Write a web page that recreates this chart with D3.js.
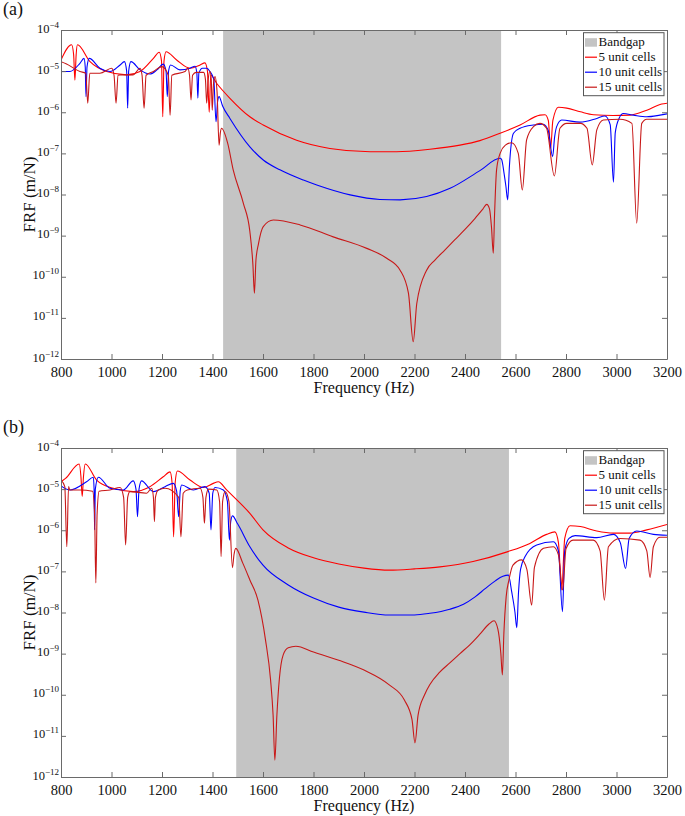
<!DOCTYPE html>
<html>
<head>
<meta charset="utf-8">
<script src="https://cdn.jsdelivr.net/npm/d3@7"></script>
<style>
  html, body { margin: 0; padding: 0; background: #fff; }
  svg { display: block; }
</style>
</head>
<body>
<svg id="chart" width="685" height="816" font-family="Liberation Serif"></svg>
<script>
// ---------------- DATA (frequency in Hz, log10 of FRF in m/N) ----------------
const xTickValues = [800, 1000, 1200, 1400, 1600, 1800, 2000, 2200, 2400, 2600, 2800, 3000, 3200];
const yTickExponents = [-4, -5, -6, -7, -8, -9, -10, -11, -12];
const seriesNames = ["5 unit cells", "10 unit cells", "15 unit cells"];
const panelLabels = ["(a)", "(b)"];
const bandgapA = [1442, 2543];
const bandgapB = [1494, 2574];

// Panel (a)
const a5 = [[800,-4.73],[842,-4.36],[850,-4.6],[855,-5.22],[860,-4.6],[865,-4.36],[915,-4.77],[981,-5.01],[1060,-5.09],[1113,-5.01],[1166,-4.69],[1189,-4.54],[1198,-4.75],[1203,-6.11],[1208,-4.75],[1216,-4.53],[1258,-4.73],[1311,-4.93],[1351,-4.85],[1370,-4.80],[1380,-5.0],[1387,-6.0],[1393,-5.1],[1417,-5.30],[1469,-5.66],[1548,-6.11],[1601,-6.31],[1733,-6.68],[1865,-6.88],[2024,-6.96],[2129,-6.96],[2261,-6.90],[2380,-6.80],[2459,-6.69],[2539,-6.51],[2618,-6.31],[2697,-6.07],[2717,-6.06],[2730,-6.2],[2739,-6.88],[2748,-6.2],[2770,-5.88],[2803,-5.90],[2857,-5.99],[2909,-6.06],[2987,-6.08],[3054,-6.07],[3120,-5.95],[3179,-5.80],[3200,-5.78]];
const a10 = [[800,-5.01],[835,-5.01],[875,-4.81],[891,-4.69],[896,-4.9],[899,-5.62],[903,-4.9],[912,-4.69],[954,-4.93],[994,-5.01],[1034,-4.85],[1051,-4.77],[1060,-5.0],[1064,-5.90],[1068,-5.0],[1077,-4.77],[1113,-4.97],[1152,-5.07],[1180,-4.97],[1205,-4.83],[1216,-5.0],[1221,-5.62],[1226,-5.0],[1234,-4.85],[1271,-4.97],[1311,-4.93],[1331,-4.88],[1338,-5.05],[1342,-5.66],[1346,-5.05],[1360,-4.93],[1377,-4.93],[1390,-5.01],[1405,-5.2],[1414,-6.23],[1420,-5.75],[1426,-5.62],[1440,-5.85],[1469,-6.15],[1548,-6.84],[1601,-7.16],[1667,-7.40],[1760,-7.65],[1813,-7.77],[1945,-8.01],[2063,-8.12],[2143,-8.13],[2248,-8.05],[2341,-7.85],[2459,-7.42],[2539,-7.12],[2545,-7.15],[2555,-7.5],[2562,-7.8],[2569,-8.13],[2576,-7.3],[2592,-6.51],[2618,-6.39],[2671,-6.31],[2710,-6.29],[2730,-6.45],[2747,-7.08],[2755,-6.6],[2763,-6.35],[2783,-6.19],[2855,-6.24],[2922,-6.15],[2954,-6.09],[2975,-6.3],[2988,-7.70],[2995,-6.5],[3010,-6.15],[3027,-6.03],[3067,-6.07],[3120,-6.11],[3172,-6.07],[3200,-6.04]];
const a15 = [[800,-4.77],[820,-4.82],[875,-5.01],[898,-5.05],[906,-5.78],[914,-5.05],[954,-5.05],[1001,-4.93],[1010,-5.1],[1018,-5.78],[1026,-5.1],[1034,-5.09],[1086,-5.09],[1113,-4.93],[1121,-5.1],[1129,-5.90],[1137,-5.1],[1166,-5.01],[1199,-4.89],[1225,-5.1],[1232,-6.07],[1239,-5.1],[1291,-5.01],[1302,-4.93],[1309,-5.1],[1315,-5.70],[1321,-5.1],[1335,-5.03],[1365,-5.03],[1372,-5.2],[1377,-5.78],[1383,-5.2],[1390,-5.01],[1395,-5.2],[1399,-5.95],[1404,-5.3],[1410,-5.13],[1418,-5.5],[1426,-6.80],[1431,-6.5],[1436,-6.39],[1460,-6.75],[1482,-7.40],[1522,-8.21],[1548,-8.9],[1560,-9.7],[1566,-10.40],[1572,-9.6],[1582,-9.2],[1601,-8.78],[1641,-8.62],[1747,-8.74],[1878,-9.03],[2011,-9.31],[2090,-9.55],[2143,-9.84],[2176,-10.40],[2195,-11.58],[2209,-10.65],[2248,-9.84],[2280,-9.6],[2320,-9.35],[2360,-9.1],[2400,-8.85],[2440,-8.58],[2470,-8.36],[2486,-8.24],[2497,-8.35],[2505,-8.8],[2512,-9.43],[2517,-8.5],[2525,-7.40],[2539,-7.0],[2560,-6.80],[2585,-6.74],[2611,-7.0],[2627,-7.89],[2644,-6.67],[2671,-6.35],[2697,-6.27],[2723,-6.39],[2754,-7.55],[2776,-6.39],[2803,-6.27],[2857,-6.27],[2883,-6.39],[2904,-7.28],[2922,-6.43],[2948,-6.19],[3014,-6.17],[3061,-6.27],[3080,-8.70],[3100,-6.27],[3120,-6.17],[3200,-6.17]];

// Panel (b)
const b5 = [[800,-4.82],[818,-4.74],[872,-4.39],[879,-4.7],[884,-5.18],[889,-4.7],[896,-4.39],[941,-4.78],[1007,-4.98],[1086,-5.06],[1152,-4.94],[1205,-4.70],[1232,-4.58],[1240,-4.85],[1246,-6.16],[1252,-4.85],[1261,-4.56],[1311,-4.78],[1364,-4.96],[1403,-4.86],[1423,-4.82],[1456,-5.02],[1548,-5.59],[1600,-5.99],[1700,-6.43],[1800,-6.67],[1900,-6.82],[2000,-6.92],[2100,-6.97],[2200,-6.94],[2301,-6.89],[2432,-6.76],[2570,-6.52],[2657,-6.32],[2723,-6.10],[2756,-6.04],[2770,-6.3],[2783,-7.45],[2795,-6.2],[2816,-5.89],[2857,-5.91],[2922,-6.02],[2988,-6.07],[3054,-6.07],[3120,-5.99],[3200,-5.86]];
const b10 = [[800,-4.92],[835,-5.02],[901,-4.82],[928,-4.71],[931,-5.0],[933,-5.99],[936,-5.0],[948,-4.71],[994,-4.98],[1047,-5.02],[1086,-4.80],[1097,-5.0],[1103,-5.67],[1109,-5.0],[1119,-4.80],[1166,-5.06],[1212,-4.94],[1245,-4.86],[1258,-5.05],[1266,-5.67],[1272,-5.05],[1278,-4.90],[1324,-5.02],[1370,-4.94],[1387,-5.1],[1394,-5.99],[1401,-5.1],[1410,-4.96],[1443,-5.02],[1459,-5.3],[1467,-6.24],[1472,-5.8],[1479,-5.65],[1500,-5.85],[1548,-6.40],[1600,-6.85],[1700,-7.33],[1800,-7.65],[1900,-7.87],[2000,-7.99],[2100,-8.06],[2200,-8.06],[2261,-8.02],[2340,-7.92],[2394,-7.80],[2440,-7.62],[2480,-7.42],[2520,-7.23],[2550,-7.12],[2572,-7.09],[2585,-7.5],[2598,-8.0],[2605,-8.37],[2612,-7.5],[2620,-6.95],[2638,-6.64],[2684,-6.36],[2750,-6.28],[2770,-6.5],[2786,-7.98],[2795,-6.5],[2812,-6.2],[2836,-6.13],[2922,-6.18],[2988,-6.10],[3015,-6.3],[3036,-6.93],[3050,-6.2],[3080,-6.02],[3146,-6.10],[3200,-6.12]];
const b15 = [[800,-4.78],[815,-4.94],[823,-6.40],[830,-4.94],[835,-5.02],[875,-5.02],[925,-5.05],[933,-5.6],[938,-7.28],[943,-5.6],[951,-5.05],[994,-5.02],[1034,-4.96],[1048,-5.2],[1056,-6.36],[1064,-5.2],[1073,-5.06],[1139,-5.10],[1159,-4.98],[1166,-5.2],[1170,-5.79],[1174,-5.2],[1185,-5.02],[1212,-4.98],[1266,-5.2],[1275,-6.16],[1284,-5.1],[1300,-5.02],[1351,-4.98],[1362,-5.2],[1368,-5.83],[1374,-5.2],[1384,-5.0],[1417,-5.02],[1428,-5.3],[1434,-6.64],[1440,-5.3],[1450,-5.06],[1465,-5.3],[1479,-6.91],[1485,-6.6],[1492,-6.44],[1520,-6.8],[1548,-7.21],[1580,-7.70],[1610,-8.67],[1630,-9.64],[1640,-10.5],[1647,-11.59],[1655,-10.5],[1665,-9.6],[1680,-9.03],[1700,-8.86],[1730,-8.82],[1800,-8.96],[1900,-9.16],[2000,-9.40],[2100,-9.76],[2160,-10.13],[2190,-10.6],[2202,-11.17],[2214,-10.5],[2240,-10.0],[2261,-9.75],[2300,-9.45],[2341,-9.22],[2380,-9.0],[2420,-8.78],[2460,-8.52],[2495,-8.28],[2515,-8.2],[2530,-8.4],[2542,-9.0],[2548,-9.52],[2554,-8.5],[2563,-7.62],[2574,-7.21],[2590,-6.85],[2624,-6.72],[2645,-6.95],[2664,-7.82],[2675,-6.9],[2711,-6.44],[2750,-6.40],[2770,-6.6],[2787,-7.45],[2800,-6.45],[2828,-6.24],[2908,-6.24],[2935,-6.5],[2952,-7.70],[2968,-6.4],[3014,-6.20],[3093,-6.24],[3120,-6.5],[3133,-7.15],[3146,-6.4],[3172,-6.17],[3200,-6.17]];

// ---------------- STYLE / LAYOUT ----------------
const colors = ["#ff0000", "#0000ff", "#c81818"];
const bandColor = "#c4c4c4";
const axisColor = "#6a6a6a";
const FONT = "Liberation Serif";
const plotLeft = 61, plotRight = 667, plotH = 329;
const panels = [
  { label: panelLabels[1], top: 448, band: bandgapB, series: [b5, b10, b15] },
  { label: panelLabels[0], top: 30, band: bandgapA, series: [a5, a10, a15] }
];

const svg = d3.select("#chart");
const x = d3.scaleLinear().domain([800, 3200]).range([plotLeft, plotRight]);

function addText(parent) {
  return parent.append("text").attr("font-family", FONT).attr("fill", "#111");
}

panels.forEach((p, pi) => {
  const top = p.top, bottom = p.top + plotH;
  const y = d3.scaleLog().domain([1e-12, 1e-4]).range([bottom, top]);
  const g = svg.append("g");

  addText(svg).attr("x", 3).attr("y", top - 15).attr("font-size", 18).text(p.label);

  g.append("rect").attr("x", plotLeft).attr("y", top).attr("width", plotRight - plotLeft).attr("height", plotH).attr("fill", "#fff");
  g.append("rect")
    .attr("x", x(p.band[0])).attr("y", top)
    .attr("width", x(p.band[1]) - x(p.band[0])).attr("height", plotH)
    .attr("fill", bandColor);

  const clipId = "clip" + pi;
  svg.append("clipPath").attr("id", clipId).append("rect")
    .attr("x", plotLeft).attr("y", top).attr("width", plotRight - plotLeft).attr("height", plotH);

  const line = d3.line()
    .x(d => x(d[0]))
    .y(d => y(Math.pow(10, d[1])))
    .curve(d3.curveMonotoneX);

  const lg = g.append("g").attr("clip-path", `url(#${clipId})`);
  p.series.forEach((s, si) => {
    lg.append("path").datum(s)
      .attr("d", line)
      .attr("fill", "none")
      .attr("stroke", colors[si])
      .attr("stroke-width", 1.1)
      .attr("stroke-linejoin", "round");
  });

  const styleAxis = sel => {
    sel.attr("font-family", FONT);
    sel.selectAll("path.domain").attr("stroke", axisColor).attr("stroke-width", 1);
    sel.selectAll(".tick line").attr("stroke", axisColor).attr("stroke-width", 1);
  };
  const xb = g.append("g").attr("transform", `translate(0,${bottom})`)
    .call(d3.axisBottom(x).tickValues(xTickValues).tickSize(-5).tickSizeOuter(0).tickPadding(7.5).tickFormat(d3.format("d")));
  xb.selectAll("text").attr("font-size", 14.5).attr("font-family", FONT).attr("fill", "#111");
  styleAxis(xb);
  const xt = g.append("g").attr("transform", `translate(0,${top})`)
    .call(d3.axisTop(x).tickValues(xTickValues).tickSize(-5).tickSizeOuter(0).tickFormat(""));
  styleAxis(xt);

  const yVals = yTickExponents.map(e => Math.pow(10, e));
  const yl = g.append("g").attr("transform", `translate(${plotLeft},0)`)
    .call(d3.axisLeft(y).tickValues(yVals).tickSize(-5).tickSizeOuter(0).tickFormat(""));
  styleAxis(yl);
  const yr = g.append("g").attr("transform", `translate(${plotRight},0)`)
    .call(d3.axisRight(y).tickValues(yVals).tickSize(-5).tickSizeOuter(0).tickFormat(""));
  styleAxis(yr);

  yTickExponents.forEach(e => {
    const t = addText(g)
      .attr("x", plotLeft - 2)
      .attr("y", y(Math.pow(10, e)) + 2.5)
      .attr("text-anchor", "end")
      .attr("font-size", 12.5);
    t.append("tspan").text("10");
    t.append("tspan").attr("dy", -5).attr("font-size", 9).text("\u2212" + Math.abs(e));
  });

  addText(g)
    .attr("x", (plotLeft + plotRight) / 2).attr("y", bottom + 34)
    .attr("text-anchor", "middle").attr("font-size", 16)
    .text("Frequency (Hz)");
  addText(g)
    .attr("transform", `translate(35,${(top + bottom) / 2}) rotate(-90)`)
    .attr("text-anchor", "middle").attr("font-size", 17)
    .text("FRF (m/N)");

  const lx = 583.5, ly = top + 2.7, lw = 80.5, lh = 63;
  const leg = g.append("g");
  leg.append("rect").attr("x", lx).attr("y", ly).attr("width", lw).attr("height", lh)
    .attr("fill", "#fff").attr("stroke", "#555").attr("stroke-width", 1);
  const rows = ["Bandgap"].concat(seriesNames);
  rows.forEach((name, i) => {
    const base = ly + 13.5 + i * 15;
    if (i === 0) {
      leg.append("rect").attr("x", lx + 1.5).attr("y", base - 8).attr("width", 12).attr("height", 8.5).attr("fill", bandColor);
    } else {
      leg.append("line").attr("x1", lx + 1.5).attr("x2", lx + 13.5)
        .attr("y1", base - 4).attr("y2", base - 4)
        .attr("stroke", colors[i - 1]).attr("stroke-width", 1.2);
    }
    addText(leg).attr("x", lx + 15).attr("y", base).attr("font-size", 13).text(name);
  });
});
</script>
</body>
</html>
